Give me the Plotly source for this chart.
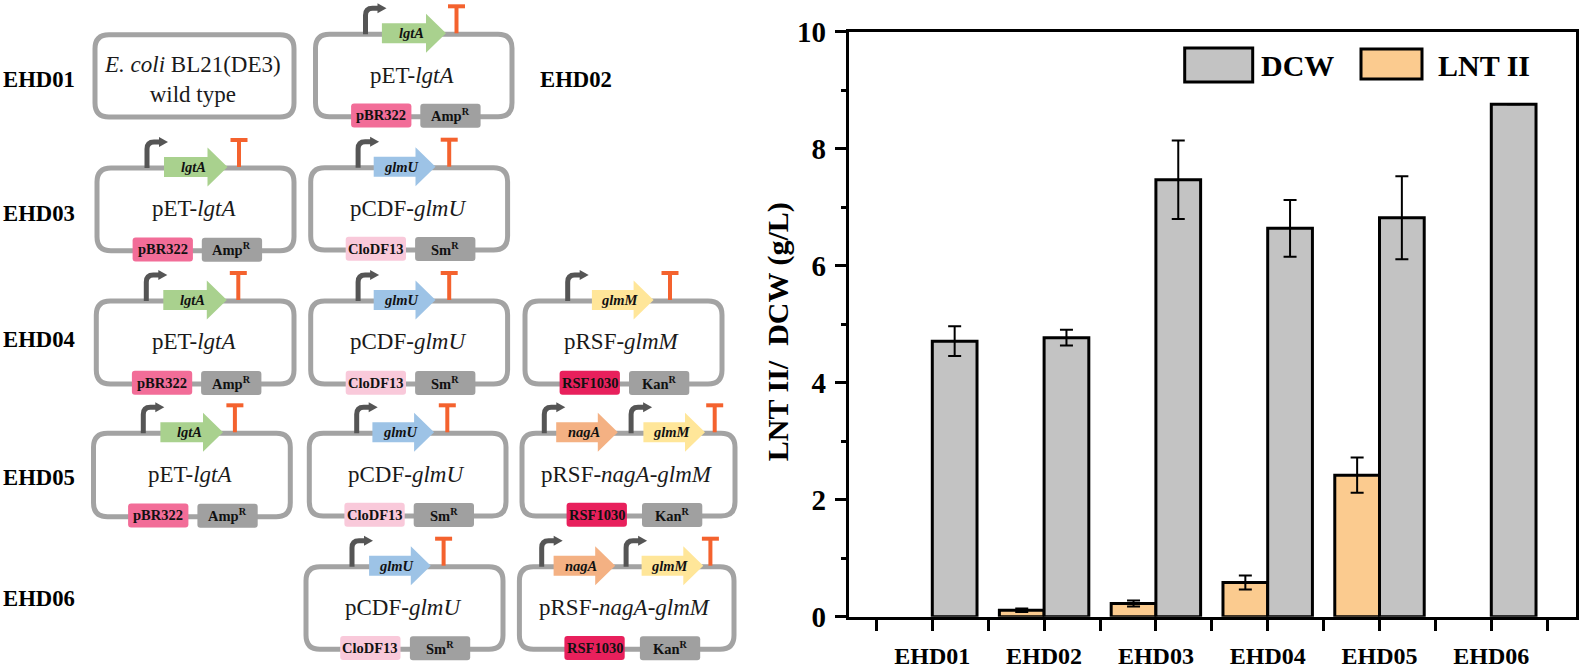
import plotly.graph_objects as go

# ---------- chart data ----------
categories = ["EHD01", "EHD02", "EHD03", "EHD04", "EHD05", "EHD06"]
lnt_values = [0, 0.11, 0.226, 0.584, 2.42, 0]
lnt_errors = [0, 0.03, 0.05, 0.12, 0.30, 0]
dcw_values = [4.71, 4.77, 7.47, 6.64, 6.82, 8.76]
dcw_errors = [0.255, 0.135, 0.67, 0.485, 0.71, 0]
y_ticks = [0, 2, 4, 6, 8, 10]

# ---------- schematic content ----------
strain_labels = [("EHD01", 38.5, 79), ("EHD02", 576, 79), ("EHD03", 38.5, 213),
                 ("EHD04", 38.5, 339), ("EHD05", 38.5, 477), ("EHD06", 38.5, 598)]

GENE_COLORS = {"lgtA": "#a9d18e", "glmU": "#9dc3e6", "glmM": "#ffe699", "nagA": "#f4b183"}
ORI_COLORS = {"pBR322": "#f26d98", "CloDF13": "#f9c9da", "RSF1030": "#e8205c"}

# name, left, right, top, bottom, ori, ori_x, res, res_x, genes(name, promoter, start, end), terminator
plasmids = [
    ("pET-<i>lgtA</i>", 315.5, 512, 34.3, 116.7, "pBR322", 35.6, "Amp", 104.8, [("lgtA", 50, 66.4, 130.5)], 141),
    ("pET-<i>lgtA</i>", 97, 294, 168, 250.7, "pBR322", 35.6, "Amp", 104.8, [("lgtA", 50, 67, 130.5)], 142),
    ("pCDF-<i>glmU</i>", 310.7, 507.6, 167.7, 250, "CloDF13", 35, "Sm", 104.4, [("glmU", 47.4, 63, 124.8)], 138.5),
    ("pET-<i>lgtA</i>", 96.3, 294, 301, 384, "pBR322", 35.6, "Amp", 104.8, [("lgtA", 50, 67, 130.5)], 142),
    ("pCDF-<i>glmU</i>", 310.7, 507.6, 301, 384, "CloDF13", 35, "Sm", 104.4, [("glmU", 47.4, 63, 124.8)], 138.5),
    ("pRSF-<i>glmM</i>", 525, 722, 301, 384, "RSF1030", 34.6, "Kan", 104, [("glmM", 42.7, 66.9, 128.6)], 145),
    ("pET-<i>lgtA</i>", 93.5, 290.3, 433.3, 516.7, "pBR322", 34.6, "Amp", 103.9, [("lgtA", 49.8, 66.9, 129.5)], 141.4),
    ("pCDF-<i>glmU</i>", 309.3, 506, 433.3, 516, "CloDF13", 35.1, "Sm", 104.4, [("glmU", 47.4, 63.1, 124.8)], 138),
    ("pRSF-<i>nagA-glmM</i>", 522, 735, 433.3, 516, "RSF1030", 44.6, "Kan", 120,
     [("nagA", 22.3, 34.2, 95.8), ("glmM", 109.1, 121.4, 183)], 192.7),
    ("pCDF-<i>glmU</i>", 306, 503, 566.7, 649.3, "CloDF13", 34.2, "Sm", 103.9, [("glmU", 46, 63.1, 124.8)], 137.6),
    ("pRSF-<i>nagA-glmM</i>", 519.4, 734, 566.7, 649.3, "RSF1030", 45, "Kan", 120.5,
     [("nagA", 22.3, 34.2, 95.8), ("glmM", 106.7, 122.2, 183.9)], 191),
]

SERIF = "Liberation Serif"
W, H = 1594, 669
FRAME_L, FRAME_R, FRAME_T, FRAME_B = 848.7, 1575.7, 31.7, 616.7
STEP = (1491.3 - 932.3) / 5
BLACK = "#000000"

shapes, annots = [], []


def S(kind, **kw):
    d = dict(type=kind, xref="x2", yref="y2", layer="above")
    d.update(kw)
    shapes.append(d)


def T(x, y, text, size, bold=False, color="#1a1a1a"):
    if bold:
        text = f"<b>{text}</b>"
    annots.append(dict(x=x, y=y, xref="x2", yref="y2", text=text, showarrow=False,
                       xanchor="center", yanchor="middle",
                       font=dict(family=SERIF, size=size, color=color)))


def round_box(l, r, t, b, rad):
    return (f"M {l+rad} {t} L {r-rad} {t} Q {r} {t} {r} {t+rad} L {r} {b-rad} Q {r} {b} {r-rad} {b} "
            f"L {l+rad} {b} Q {l} {b} {l} {b-rad} L {l} {t+rad} Q {l} {t} {l+rad} {t} Z")


def draw_box(l, r, t, b):
    S("path", path=round_box(l, r, t, b, 14), line=dict(color="#a3a3a3", width=5), fillcolor="rgba(0,0,0,0)")


def draw_gene(left, top, name, prom, start, end):
    px = left + prom
    S("path", path=f"M {px} {top} L {px} {top-19} Q {px} {top-26} {px+7} {top-26} L {px+13} {top-26}",
      line=dict(color="#555555", width=5), fillcolor="rgba(0,0,0,0)")
    S("path", path=f"M {px+12} {top-31} L {px+21} {top-26} L {px+12} {top-21} Z",
      line=dict(color="#555555", width=0), fillcolor="#555555")
    x0, x1 = left + start, left + end
    hb = x1 - 20
    yc = top - 1
    S("path", path=(f"M {x0} {yc-10} L {hb} {yc-10} L {hb} {yc-19.5} L {x1} {yc} L {hb} {yc+19.5} "
                    f"L {hb} {yc+10} L {x0} {yc+10} Z"),
      line=dict(width=0), fillcolor=GENE_COLORS[name])
    T(x0 + (x1 - x0) * 0.46, yc, f"<i>{name}</i>", 14.5, bold=True, color="#111111")


draw_box(95, 294, 34.7, 117)
T(192, 79.5, "<i>E. coli</i> BL21(DE3)<br>wild type", 23)

for lab, lx, ly in strain_labels:
    T(lx, ly, lab, 22.7, bold=True, color="#000000")

for name, l, r, t, b, ori, ox, res, rx, genes, term in plasmids:
    draw_box(l, r, t, b)
    for g in genes:
        draw_gene(l, t, *g)
    tx = l + term
    S("line", x0=tx, x1=tx, y0=t - 1, y1=t - 28, line=dict(color="#f4622e", width=4))
    S("line", x0=tx - 8.5, x1=tx + 8.5, y0=t - 28, y1=t - 28, line=dict(color="#f4622e", width=4))
    T((l + r) / 2 - 1.5, t + 40.7, name, 23)
    S("path", path=round_box(l + ox, l + ox + 60.3, b - 13.3, b + 10.7, 3), line=dict(width=0),
      fillcolor=ORI_COLORS[ori])
    T(l + ox + 30.1, b - 1.5, ori, 14.5, bold=True, color="#111111")
    S("path", path=round_box(l + rx, l + rx + 60.3, b - 13, b + 11, 3), line=dict(width=0), fillcolor="#a0a0a0")
    T(l + rx + 30.1, b - 1.5, f"{res}<sup>R</sup>", 14.5, bold=True, color="#111111")

# ---------- legend keys (panel is a fixed mock of the original key) ----------
def px_x(v):
    return v / W


def px_y(v):
    return 1 - v / H


legend_items = [("DCW", "#c3c3c3", 1184.7, 1252.7, 48, 82, 1259),
                ("LNT II", "#fbcb8f", 1361, 1422, 49, 79, 1436)]
for lab, col, x0, x1, y0, y1, tx in legend_items:
    shapes.append(dict(type="rect", xref="paper", yref="paper", x0=px_x(x0), x1=px_x(x1), y0=px_y(y0), y1=px_y(y1),
                       fillcolor=col, line=dict(color=BLACK, width=3), layer="above"))
    annots.append(dict(xref="paper", yref="paper", x=px_x(tx), y=px_y(65.5), text=f"<b>{lab}</b>", showarrow=False,
                       xanchor="left", yanchor="middle", font=dict(family=SERIF, size=30, color=BLACK)))

# ---------- figure ----------
x_idx = list(range(len(categories)))
err_style = dict(type="data", thickness=2, width=6.5, color=BLACK)
# strains with no LNT II produced draw no LNT II bar
lnt_present = [i for i, v in enumerate(lnt_values) if v]
fig = go.Figure()
fig.add_bar(name="LNT II", x=lnt_present, y=[lnt_values[i] for i in lnt_present],
            marker=dict(color="#fbcb8f", line=dict(color=BLACK, width=3)),
            error_y=dict(array=[lnt_errors[i] for i in lnt_present], **err_style))
fig.add_bar(name="DCW", x=x_idx, y=dcw_values, marker=dict(color="#c3c3c3", line=dict(color=BLACK, width=3)),
            error_y=dict(array=dcw_errors, **err_style))

fig.update_layout(
    width=W, height=H, margin=dict(l=0, r=0, t=0, b=0), paper_bgcolor="white", plot_bgcolor="white",
    showlegend=False, barmode="group", bargap=0.2, bargroupgap=0,
    font=dict(family=SERIF, color=BLACK),
    xaxis=dict(domain=[FRAME_L / W, FRAME_R / W], automargin=False,
               range=[(FRAME_L - 932.3) / STEP, (FRAME_R - 932.3) / STEP],
               tickmode="array", tickvals=x_idx, ticktext=[f"<b>{c}</b>" for c in categories],
               ticks="outside", ticklen=11, tickwidth=3, tickcolor=BLACK,
               tickfont=dict(family=SERIF, size=24, color=BLACK), ticklabelstandoff=4,
               minor=dict(tickmode="array", tickvals=[i - 0.5 for i in x_idx] + [x_idx[-1] + 0.5],
                          ticks="outside", ticklen=11, tickwidth=3, tickcolor=BLACK),
               showline=True, linewidth=3, linecolor=BLACK, mirror=True, showgrid=False, zeroline=False),
    yaxis=dict(domain=[1 - FRAME_B / H, 1 - FRAME_T / H], range=[0, 10], automargin=False,
               tickmode="array", tickvals=y_ticks, ticktext=[f"<b>{v}</b>" for v in y_ticks],
               ticks="outside", ticklen=11, tickwidth=3, tickcolor=BLACK,
               tickfont=dict(family=SERIF, size=29, color=BLACK), ticklabelstandoff=3,
               minor=dict(dtick=1, ticks="outside", ticklen=5, tickwidth=3, tickcolor=BLACK, showgrid=False),
               title=dict(text="<b>LNT II/  DCW (g/L)&nbsp;&nbsp;</b>", font=dict(family=SERIF, size=30, color=BLACK), standoff=0),
               showline=True, linewidth=3, linecolor=BLACK, mirror=True, showgrid=False, zeroline=False),
    xaxis2=dict(domain=[0, 749 / W], range=[0, 749], visible=False, anchor="y2", fixedrange=True, automargin=False),
    yaxis2=dict(domain=[0, 1], range=[H, 0], visible=False, anchor="x2", fixedrange=True, automargin=False),
    shapes=shapes, annotations=annots,
)
fig.add_trace(go.Scatter(x=[], y=[], xaxis="x2", yaxis="y2", hoverinfo="skip", showlegend=False))

fig.write_html("out.html", post_script="document.body.style.margin='0';", config={"displayModeBar": False})
